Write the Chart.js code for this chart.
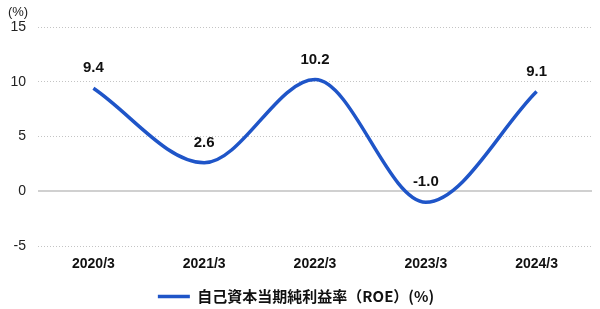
<!DOCTYPE html>
<html><head><meta charset="utf-8">
<script src="https://cdn.jsdelivr.net/npm/chart.js@4/dist/chart.umd.min.js"></script>
<style>html,body{margin:0;padding:0;background:#fff}#w{width:600px;height:309px}</style>
</head><body><div id="w"><canvas id="c"></canvas></div>
<script>
const categories = ["2020/3","2021/3","2022/3","2023/3","2024/3"];
const roeValues = [9.4, 2.6, 10.2, -1.0, 9.1];
const seriesLabel = "自己資本当期純利益率（ROE）(%)";
const yTicks = [-5, 0, 5, 10, 15];
const unitLabel = "(%)";

const FONT = "'Liberation Sans', Arial, sans-serif";
const JFONT = "'Noto Sans CJK JP', 'Liberation Sans', sans-serif";
const LINE = '#1f55c8';

const labelPlugin = {
  id: 'labels',
  beforeDatasetsDraw(chart) {
    const ctx = chart.ctx, y = chart.scales.y, a = chart.chartArea;
    const py = Math.round(y.getPixelForValue(0));
    ctx.save();
    ctx.strokeStyle = '#d0d0d0';
    ctx.lineWidth = 2;
    ctx.beginPath(); ctx.moveTo(a.left, py); ctx.lineTo(a.right, py); ctx.stroke();
    ctx.restore();
  },
  afterDatasetsDraw(chart) {
    const ctx = chart.ctx;
    const meta = chart.getDatasetMeta(0);
    ctx.save();
    ctx.font = "bold 15px " + FONT;
    ctx.fillStyle = "#111";
    ctx.textAlign = "center";
    ctx.textBaseline = "middle";
    meta.data.forEach((pt, i) => {
      ctx.fillText(roeValues[i].toFixed(1), pt.x, pt.y - 20);
    });
    ctx.font = "13px " + FONT;
    ctx.fillStyle = "#222";
    ctx.fillText(unitLabel, 18, 12);
    ctx.restore();
  }
};

new Chart(document.getElementById('c'), {
  type: 'line',
  data: {
    labels: categories,
    datasets: [{
      label: seriesLabel,
      data: roeValues,
      borderColor: LINE,
      backgroundColor: LINE,
      borderWidth: 3.5,
      pointRadius: 0,
      cubicInterpolationMode: 'monotone',
      fill: false
    }]
  },
  options: {
    responsive: true,
    maintainAspectRatio: false,
    animation: false,
    layout: { padding: { top: 27, right: 8, left: 0, bottom: -5 } },
    plugins: {
      tooltip: { enabled: false },
      legend: {
        position: 'bottom',
        labels: {
          boxWidth: 32, boxHeight: 0, padding: 2,
          color: '#111',
          font: { family: JFONT, size: 15, weight: 'bold' },
          generateLabels(chart) {
            return [{ text: seriesLabel, strokeStyle: LINE, fillStyle: LINE, lineWidth: 3.5, datasetIndex: 0, fontColor: '#111' }];
          }
        }
      }
    },
    scales: {
      x: {
        offset: true,
        grid: { display: false },
        border: { display: false },
        afterFit(s) { s.height = 41; },
        ticks: { color: '#111', font: { family: FONT, size: 14, weight: 'bold' }, padding: 2 }
      },
      y: {
        min: -5, max: 15,
        afterBuildTicks(s) { s.ticks = yTicks.map(v => ({ value: v })); },
        afterFit(s) { s.width = 38; },
        border: { display: false, dash: [1, 2] },
        grid: {
          drawTicks: false,
          color: ctx => ctx.tick && ctx.tick.value === 0 ? 'rgba(0,0,0,0)' : '#c4c4c4',
          lineWidth: 1
        },
        ticks: { color: '#222', font: { family: FONT, size: 14 }, padding: 12 }
      }
    }
  },
  plugins: [labelPlugin]
});
</script></body></html>
